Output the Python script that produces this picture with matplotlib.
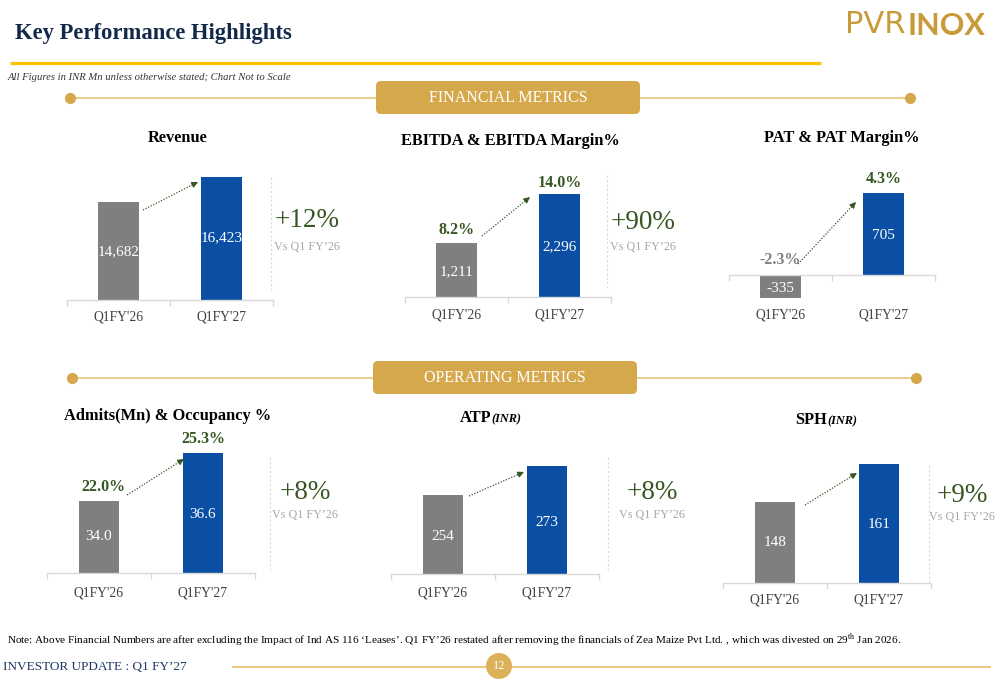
import numpy as np
import matplotlib
matplotlib.use("Agg")
import matplotlib.pyplot as plt
from matplotlib import transforms
from matplotlib.patches import FancyBboxPatch, Circle

# ---------------- data ----------------
categories = ["Q1FY'26", "Q1FY'27"]
revenue = [14682, 16423]
ebitda = [1211, 2296]
ebitda_margin = [8.2, 14.0]
pat = [-335, 705]
pat_margin = [-2.3, 4.3]
admits = [34.0, 36.6]
occupancy = [22.0, 25.3]
atp = [254, 273]
sph = [148, 161]
growth_pct = {"revenue": 12, "ebitda": 90, "admits": 8, "atp": 8, "sph": 9}

# ---------------- style ----------------
plt.rcParams['font.family'] = ['Liberation Serif', 'DejaVu Serif']
plt.rcParams['mathtext.fontset'] = 'custom'
plt.rcParams['mathtext.rm'] = 'Liberation Serif'

GRAY = '#7F7F7F'
BLUE = '#0A4FA3'
GREEN = '#375623'
LGRAY = '#A6A6A6'
AXLINE = '#D9D9D9'
NAVY = '#13294B'
GOLD = '#D6A84C'
LGOLD = '#E9C374'
TICKC = '#404040'

W, H = 1000, 685
fig = plt.figure(figsize=(10, 6.85), dpi=100)
fig.patch.set_facecolor('white')
ov = fig.add_axes([0, 0, 1, 1], zorder=10)
ov.set_xlim(0, W)
ov.set_ylim(H, 0)
ov.axis('off')
ov.patch.set_alpha(0)


def panel(vals, x0, x1, ytop, ybot, ylim, base, func_k=None):
    ax = fig.add_axes([x0 / W, 1 - ybot / H, (x1 - x0) / W, (ybot - ytop) / H], zorder=1)
    ax.patch.set_alpha(0)
    if func_k is not None:
        k = func_k
        ax.set_yscale('function', functions=(lambda y: np.where(np.asarray(y) < 0, np.asarray(y) * k, np.asarray(y)),
                                            lambda y: np.where(np.asarray(y) < 0, np.asarray(y) / k, np.asarray(y))))
    ax.bar([0, 1], vals, width=0.39, color=[GRAY, BLUE], zorder=2)
    ax.set_xlim(-0.5, 1.5)
    ax.set_ylim(*ylim)
    for s in ['top', 'right', 'left']:
        ax.spines[s].set_visible(False)
    ax.spines['bottom'].set_position(('data', base))
    ax.spines['bottom'].set_color(AXLINE)
    ax.spines['bottom'].set_linewidth(1.0)
    ax.set_yticks([])
    ax.yaxis.set_minor_locator(matplotlib.ticker.NullLocator())
    ax.set_xticks([-0.5, 0.5, 1.5])
    ax.set_xticklabels([])
    ax.tick_params(axis='x', length=4, color=AXLINE, width=1, direction='out')
    tr = transforms.blended_transform_factory(ax.transData, ov.transData)
    return ax, tr


def cat_labels(tr, y):
    for i, c in enumerate(categories):
        ov.text(i, y, c, transform=tr, ha='center', va='center', fontsize=9.8, color=TICKC)


def bar_labels(tr, labels, ys):
    for i, (s, y) in enumerate(zip(labels, ys)):
        ov.text(i, y, s, transform=tr, ha='center', va='center', fontsize=11, color='white')


def arrow(xa, ya, xb, yb):
    d = np.array([xb - xa, yb - ya], float)
    L = np.hypot(*d)
    u = d / L
    hx, hy = xb - u[0] * 7, yb - u[1] * 7
    ov.plot([xa, hx], [ya, hy], color=GREEN, lw=0.9, linestyle=(0, (1, 1.3)))
    ov.annotate('', xy=(xb, yb), xytext=(hx, hy),
                arrowprops=dict(arrowstyle='-|>', color=GREEN, lw=0.8,
                                mutation_scale=9, shrinkA=0, shrinkB=0))


def growth(x, y, g, ytxt, xs_line, y_line):
    ov.text(x, y, f"+{g}%", ha='center', va='center', fontsize=19.5, color=GREEN)
    ov.text(x, ytxt, "Vs Q1 FY\u201926", ha='center', va='center', fontsize=8.7, color=LGRAY)
    ov.plot([xs_line, xs_line], y_line, color=AXLINE, lw=0.8, linestyle=(0, (2, 2)))


def title(x, y, s, sub=None):
    if sub is None:
        ov.text(x, y, s, ha='center', va='center', fontsize=11.8, fontweight='bold', color='black')
    else:
        ov.text(x, y, s, ha='right', va='center', fontsize=11.8, fontweight='bold', color='black')
        ov.text(x, y + 1, sub, ha='left', va='center', fontsize=8.8, fontweight='bold',
                style='italic', color='black')


def margin_label(tr, i, y, s, color=GREEN):
    ov.text(i, y, s, transform=tr, ha='center', va='center', fontsize=11.5, fontweight='bold', color=color)


# ---------------- header ----------------
ov.text(15, 33, "Key Performance Highlights", fontsize=16.3, fontweight='bold', color=NAVY, va='center')
ov.plot([10, 821], [63, 63], color='#FFC000', lw=2.3, solid_capstyle='butt')
ov.text(8, 77, "All Figures in INR Mn unless otherwise stated; Chart Not to Scale", style='italic',
        fontsize=7.7, color='#333333', va='center')
ov.text(845, 24, "PVR", fontsize=22, family=['DejaVu Sans'], fontweight='normal', color='#C99A3A',
        va='center')
ov.text(908, 26, "INOX", fontsize=22, family=['Lato', 'DejaVu Sans'], fontweight='bold', color='#C99A3A',
        va='center')


def banner(yc, x0, x1, text, lx0, lx1):
    ov.plot([lx0, lx1], [yc, yc], color=LGOLD, lw=1.2, zorder=1)
    ov.plot([lx0, lx1], [yc, yc], 'o', color=GOLD, ms=7, zorder=2)
    ov.add_patch(FancyBboxPatch((x0, yc - 16.5), x1 - x0, 33, boxstyle='round,pad=0,rounding_size=5',
                                facecolor=GOLD, edgecolor='none', zorder=3))
    ov.text((x0 + x1) / 2, yc, text, ha='center', va='center', fontsize=11.5, color='white', zorder=4)


banner(97.5, 376, 640, "FINANCIAL METRICS", 70, 910)
banner(377.5, 373, 637, "OPERATING METRICS", 72, 916)

# ---------------- Revenue ----------------
ax, tr = panel(revenue, 67, 273, 177, 300, (7850, 16423), 7850)
title(178, 138, "Revenue")
bar_labels(tr, [f"{v:,}" for v in revenue], [252, 238])
cat_labels(tr, 317)
arrow(143, 210, 198, 182)
growth(307, 220, growth_pct["revenue"], 247, 271, (177, 290))

# ---------------- EBITDA ----------------
ax, tr = panel(ebitda, 405, 611, 194, 297, (0, 2296), 0)
title(510, 141, "EBITDA & EBITDA Margin%")
bar_labels(tr, [f"{v:,}" for v in ebitda], [272, 247])
margin_label(tr, 0, 230, f"{ebitda_margin[0]:.1f}%")
margin_label(tr, 1, 183, f"{ebitda_margin[1]:.1f}%")
cat_labels(tr, 315)
arrow(482, 236, 530, 197)
growth(643, 222, growth_pct["ebitda"], 247, 607, (175, 288))

# ---------------- PAT ----------------
ax, tr = panel(pat, 729, 935, 193, 298, (-335, 705), 0, func_k=0.59)
title(842, 138, "PAT & PAT Margin%")
bar_labels(tr, [f"{v:,}" for v in pat], [288, 235])
margin_label(tr, 0, 260, f"{pat_margin[0]:.1f}%", color=GRAY)
margin_label(tr, 1, 179, f"{pat_margin[1]:.1f}%")
cat_labels(tr, 315)
arrow(798, 264, 856, 202)

# ---------------- Admits ----------------
ax, tr = panel(admits, 47, 255, 453, 573, (30.1, 36.6), 30.1)
title(168, 416, "Admits(Mn) & Occupancy %")
bar_labels(tr, [f"{v:.1f}" for v in admits], [537, 515])
margin_label(tr, 0.04, 487, f"{occupancy[0]:.1f}%")
margin_label(tr, 1, 439, f"{occupancy[1]:.1f}%")
cat_labels(tr, 593)
arrow(127, 495, 184, 459)
growth(305, 492, growth_pct["admits"], 515, 270, (457, 572))

# ---------------- ATP ----------------
ax, tr = panel(atp, 391, 599, 466, 574, (202, 273), 202)
title(491, 418, "ATP", "(INR)")
bar_labels(tr, [f"{v}" for v in atp], [536, 522])
cat_labels(tr, 593)
arrow(469, 496, 524, 472)
growth(652, 492, growth_pct["atp"], 515, 608, (457, 572))

# ---------------- SPH ----------------
ax, tr = panel(sph, 723, 931, 464, 583, (120, 161), 120)
title(827, 420, "SPH", "(INR)")
bar_labels(tr, [f"{v}" for v in sph], [543, 524])
cat_labels(tr, 600)
arrow(805, 505, 857, 473)
growth(962, 495, growth_pct["sph"], 517, 929, (465, 582))

# ---------------- footer ----------------
note = ("Note: Above Financial Numbers are after excluding the Impact of Ind AS 116 \u2018Leases\u2019. "
        "Q1 FY\u201926 restated after removing the financials of Zea Maize Pvt Ltd. , which was divested on "
        "29$^{\\mathrm{th}}$ Jan 2026.")
ov.text(7, 640, note, fontsize=8.15, va='center', color='black')
ov.text(3, 667, "INVESTOR UPDATE : Q1 FY\u201927", fontsize=9.5, color='#1F3864', va='center')
ov.plot([233, 990], [667, 667], color=LGOLD, lw=1.3)
ov.add_patch(Circle((499, 666), 13, facecolor='#DDB15A', edgecolor='none', zorder=3))
ov.text(499, 666, "12", color='white', fontsize=9, ha='center', va='center', zorder=4)

fig.savefig("out.png", dpi=100)
